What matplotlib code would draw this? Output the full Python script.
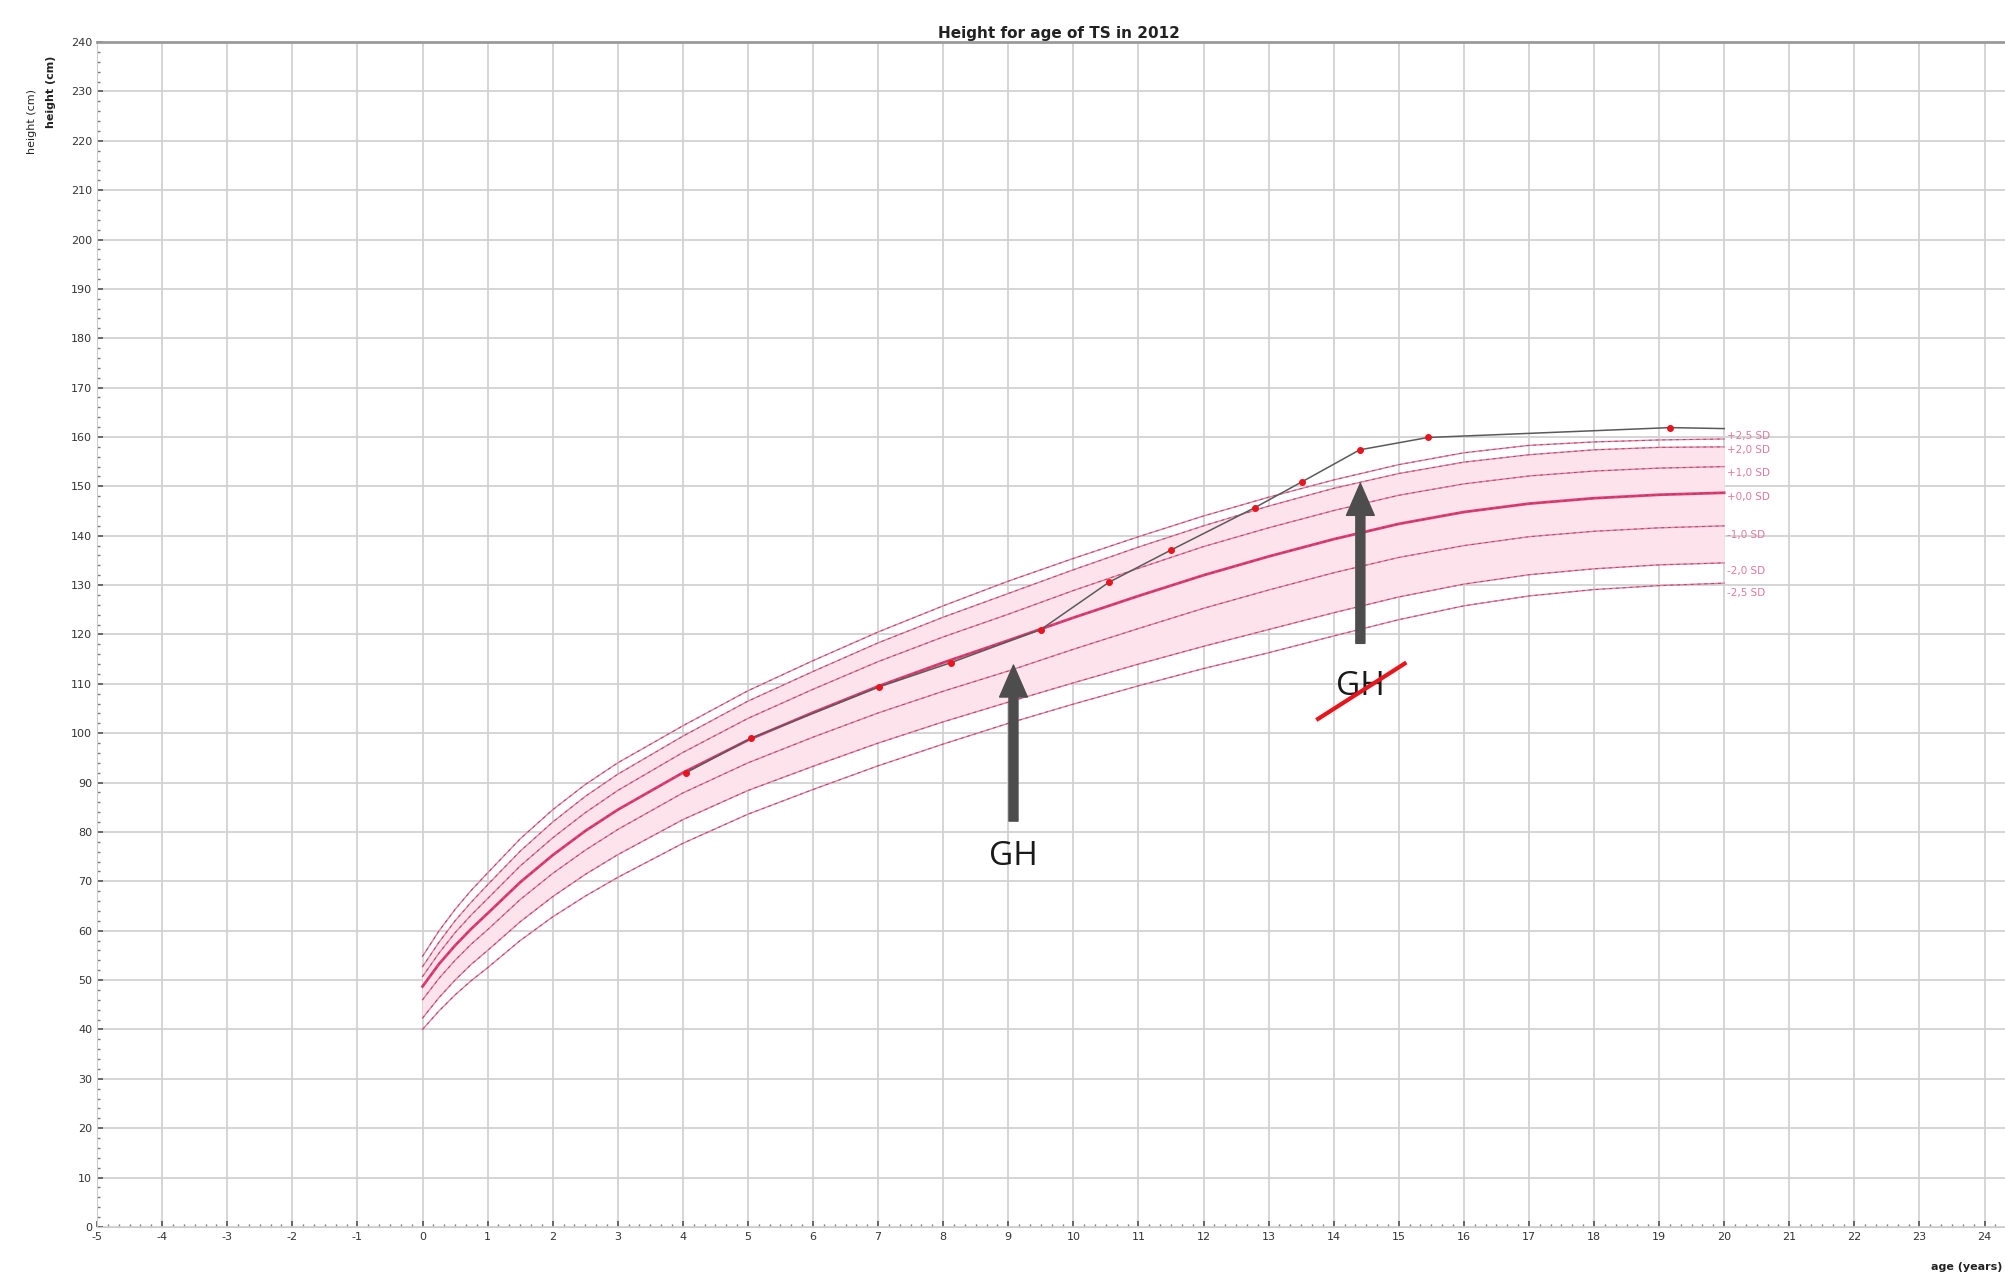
import numpy as np
import matplotlib
matplotlib.use("Agg")
import matplotlib.pyplot as plt
from matplotlib.ticker import MultipleLocator

plt.rcParams["axes.unicode_minus"] = False

# reference curves (height in cm by age in years)
ages = [0, 0.25, 0.5, 0.75, 1, 1.5, 2, 2.5, 3, 4, 5, 6, 7, 8, 9, 10, 11, 12, 13, 14, 15, 16, 17, 18, 19, 20]
sd_p25 = [54.8, 59.9, 64.3, 68.2, 71.7, 78.6, 84.5, 89.6, 94.0, 101.5, 108.6, 114.7, 120.5, 125.8, 130.8,
          135.4, 139.8, 144.0, 147.8, 151.3, 154.4, 156.8, 158.3, 159.0, 159.4, 159.6]
sd_p20 = [52.7, 57.6, 62.0, 65.8, 69.3, 76.1, 82.0, 87.2, 91.7, 99.4, 106.5, 112.5, 118.3, 123.5, 128.3,
          133.1, 137.7, 142.0, 146.0, 149.6, 152.6, 154.9, 156.4, 157.4, 157.9, 158.0]
sd_p10 = [50.7, 55.4, 59.6, 63.2, 66.5, 73.1, 78.8, 83.9, 88.4, 96.1, 103.0, 108.9, 114.5, 119.5, 124.1,
          128.9, 133.4, 137.8, 141.6, 145.1, 148.2, 150.5, 152.1, 153.1, 153.7, 154.0]
sd_00 = [48.7, 53.2, 57.0, 60.4, 63.5, 69.8, 75.3, 80.2, 84.5, 92.0, 98.6, 104.2, 109.5, 114.3, 118.8,
         123.4, 127.8, 132.0, 135.8, 139.3, 142.4, 144.8, 146.5, 147.6, 148.3, 148.7]
sd_m10 = [46.0, 50.3, 54.0, 57.3, 60.2, 66.3, 71.6, 76.3, 80.5, 87.9, 94.0, 99.2, 104.1, 108.5, 112.6,
          117.0, 121.2, 125.3, 129.0, 132.5, 135.6, 138.0, 139.8, 140.9, 141.6, 142.0]
sd_m20 = [42.3, 46.4, 50.0, 53.2, 56.0, 61.8, 66.9, 71.4, 75.4, 82.5, 88.4, 93.3, 98.0, 102.3, 106.3,
          110.2, 114.0, 117.6, 121.0, 124.4, 127.6, 130.2, 132.1, 133.3, 134.1, 134.5]
sd_m25 = [40.0, 43.7, 47.0, 49.9, 52.5, 58.0, 62.8, 67.0, 70.8, 77.7, 83.6, 88.6, 93.4, 97.8, 102.0,
          105.9, 109.6, 113.1, 116.3, 119.7, 123.0, 125.8, 127.8, 129.1, 129.9, 130.4]
sd_labels = ["+2,5 SD", "+2,0 SD", "+1,0 SD", "+0,0 SD", "-1,0 SD", "-2,0 SD", "-2,5 SD"]
sd_label_y = [160.2, 157.4, 152.8, 147.8, 140.2, 132.8, 128.4]

# patient measurements
pt_age = [4.05, 5.05, 7.02, 8.12, 9.5, 10.55, 11.5, 12.79, 13.51, 14.4, 15.45, 19.17, 20.0]
pt_height = [92.0, 99.0, 109.4, 114.3, 121.0, 130.6, 137.1, 145.7, 150.9, 157.4, 159.9, 161.9, 161.7]

# GH annotations: (x, tail y, tip y, label y)
gh_start = (9.08, 82.2, 113.8, 75.0)
gh_stop = (14.41, 118.2, 150.6, 109.5)
strike_x = [13.76, 15.09]
strike_y = [102.9, 114.1]

fig = plt.figure(figsize=(20.06, 12.77), dpi=100)
ax = fig.add_axes([0.0484, 0.0392, 0.9516, 0.9279])

ax.set_xlim(-5, 24.33)
ax.set_ylim(0, 240)
ax.xaxis.set_major_locator(MultipleLocator(1))
ax.xaxis.set_minor_locator(MultipleLocator(1 / 6))
ax.yaxis.set_major_locator(MultipleLocator(10))
ax.yaxis.set_minor_locator(MultipleLocator(2))
ax.grid(True, which="major", color="#d2d2d2", lw=1.3)
ax.set_axisbelow(True)
ax.tick_params(which="major", length=4, width=1.2, color="#555555", labelsize=8,
               labelcolor="#333333", direction="in")
ax.tick_params(which="minor", length=2.5, width=1.0, color="#777777", direction="in")
ax.spines["right"].set_visible(False)
ax.spines["top"].set_color("#9a9a9a")
ax.spines["top"].set_linewidth(2)
ax.spines["left"].set_color("#cccccc")
ax.spines["bottom"].set_color("#cccccc")

# band and SD curves
ax.fill_between(ages, sd_m20, sd_p20, color="#fde3ec", lw=0, zorder=1)
curves = [sd_p25, sd_p20, sd_p10, sd_00, sd_m10, sd_m20, sd_m25]
for c in curves:
    lw = 2.0 if c is sd_00 else 1.0
    col = "#e23c72" if c is sd_00 else "#e77a9f"
    ax.plot(ages, c, color=col, lw=lw, zorder=2)
    ax.plot(ages, c, color="#9b3a5d", lw=0.7, dashes=(3, 4), alpha=0.8, zorder=2)
for lab, y in zip(sd_labels, sd_label_y):
    ax.text(20.05, y, lab, color="#e07aa0", fontsize=7.5, va="center", ha="left")

# patient
ax.plot(pt_age, pt_height, color="#5a5a5a", lw=1.1, zorder=3)
ax.plot(pt_age[:-1], pt_height[:-1], "o", color="#e8141e", ms=4, zorder=4)

# GH arrows
for x, y0, y1, ty in [gh_start, gh_stop]:
    ax.annotate("", xy=(x, y1), xytext=(x, y0),
                arrowprops=dict(width=6.5, headwidth=20, headlength=23, color="#4d4d4d", shrink=0),
                zorder=5)
    ax.text(x, ty, "GH", fontsize=24, ha="center", va="center", color="#1a1a1a",
            family="Open Sans", zorder=5)
ax.plot(strike_x, strike_y, color="#e8161c", lw=3, zorder=6)

fig.text(0.528, 0.968, "Height for age of TS in 2012", ha="center", va="bottom",
         fontsize=11, fontweight="bold", color="#222222")
fig.text(0.016, 0.905, "height (cm)", rotation=90, ha="center", va="center", fontsize=8, color="#222222")
fig.text(0.0255, 0.928, "height (cm)", rotation=90, ha="center", va="center", fontsize=8,
         fontweight="bold", color="#222222")
fig.text(0.998, 0.008, "age (years)", ha="right", va="center", fontsize=8, fontweight="bold",
         color="#222222")

fig.savefig("out.png", dpi=100)
